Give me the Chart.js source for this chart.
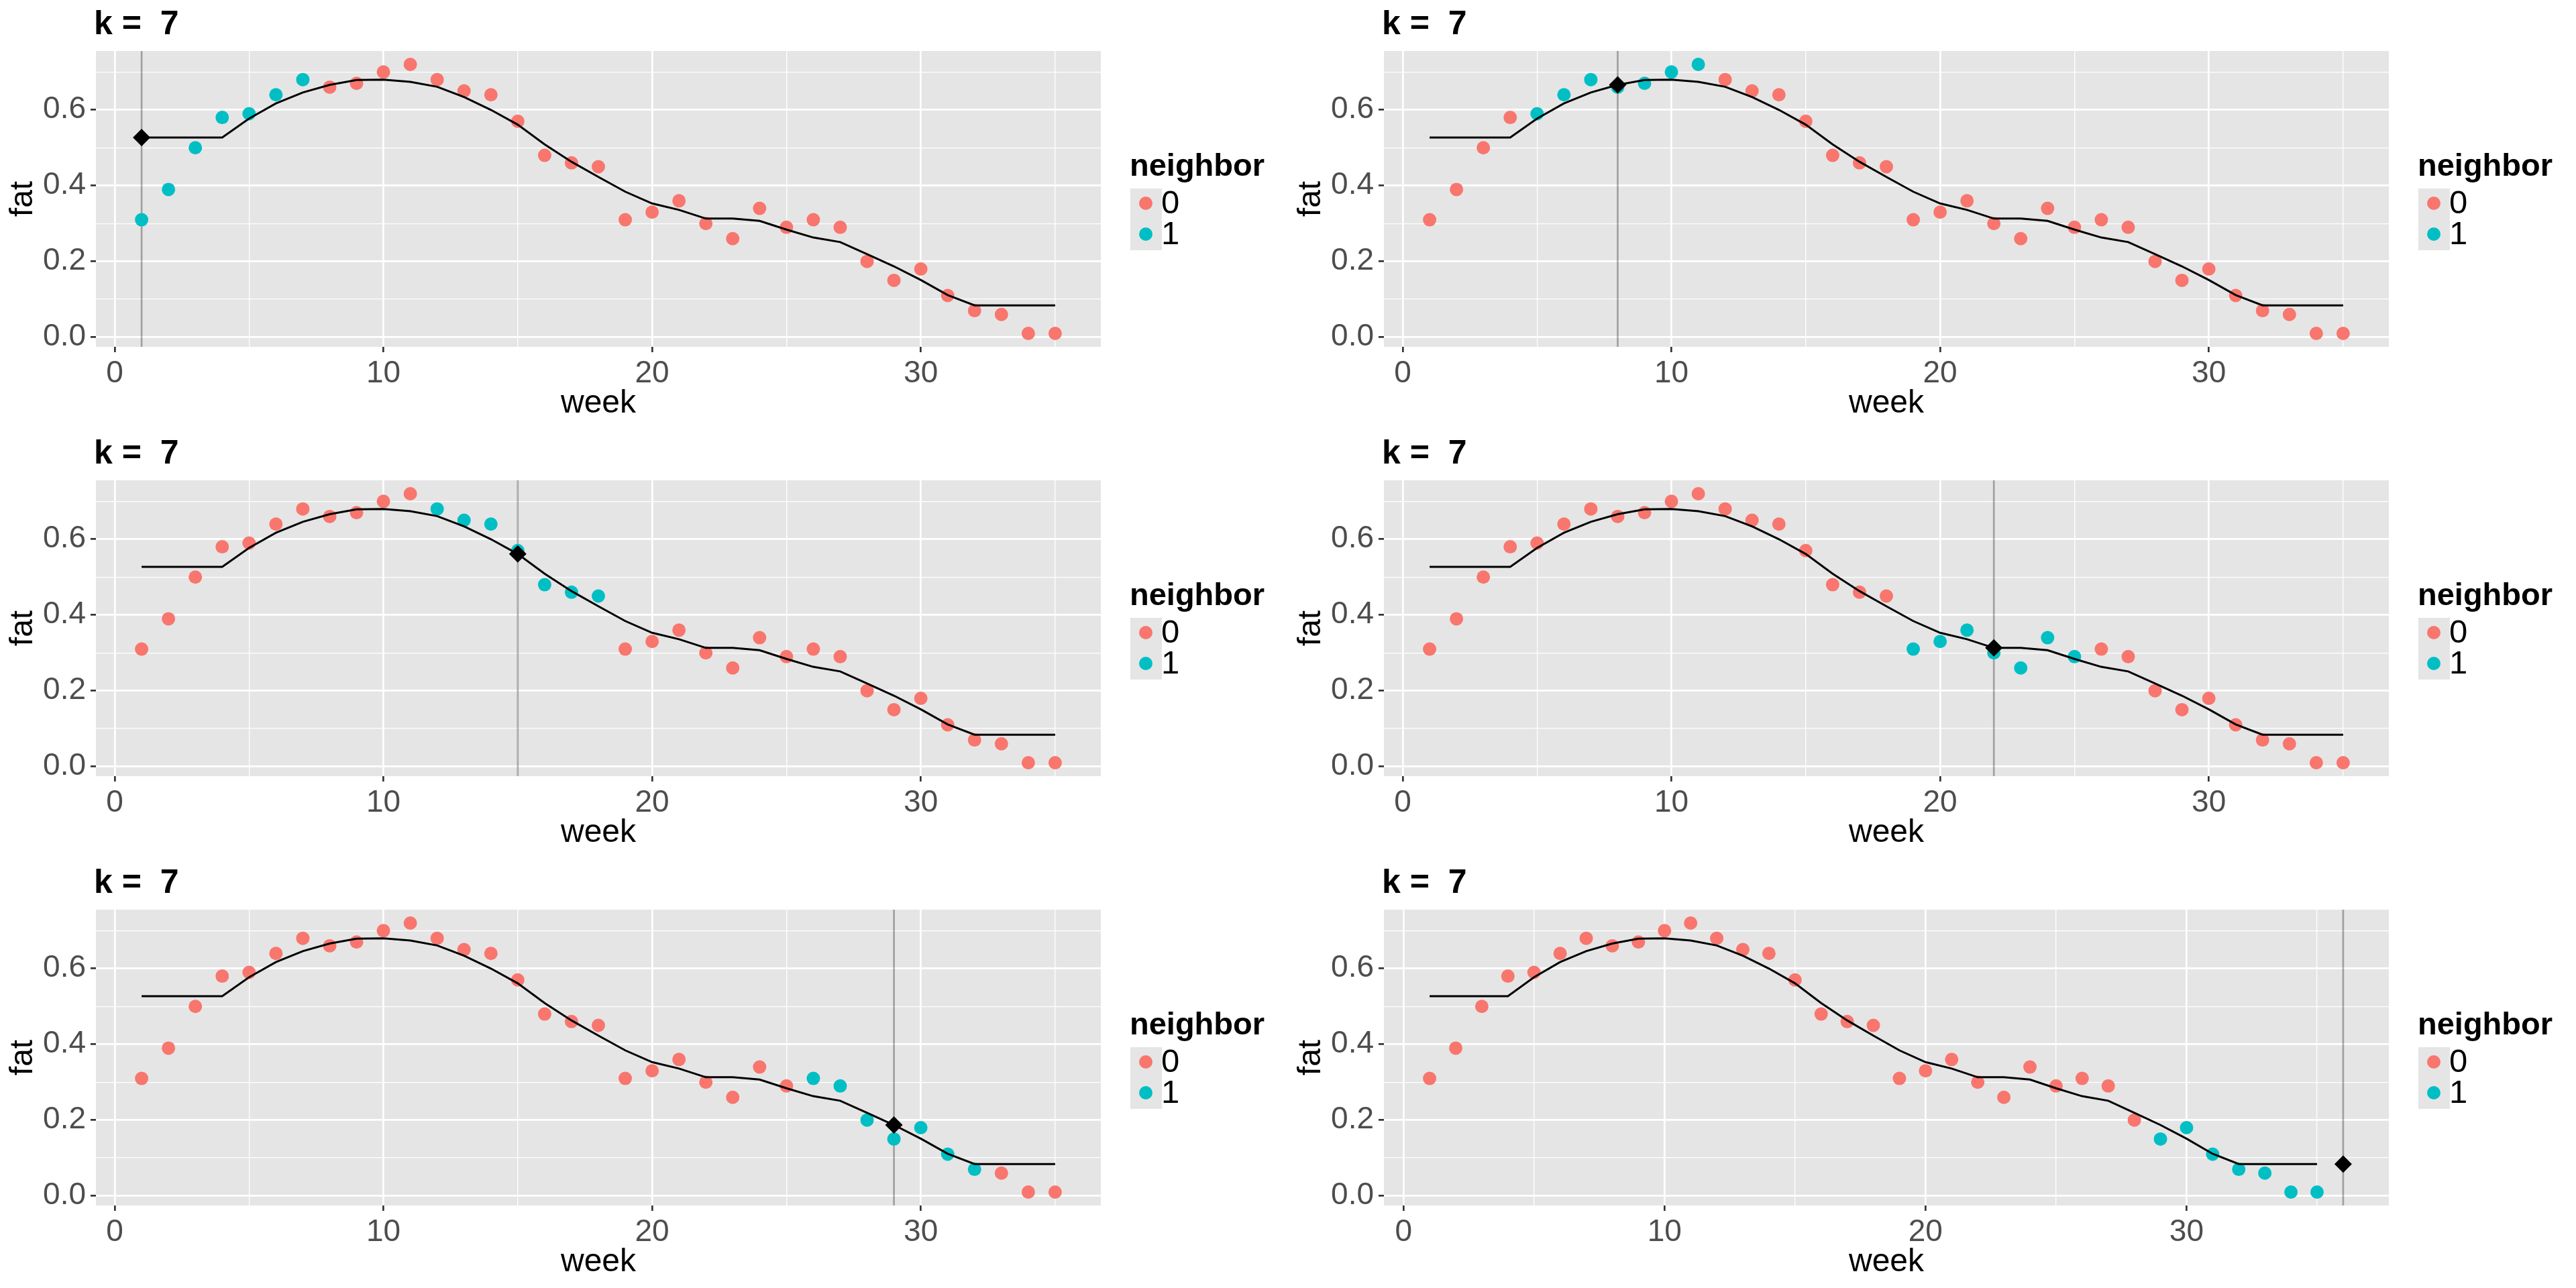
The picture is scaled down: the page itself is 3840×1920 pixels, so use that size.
<!DOCTYPE html>
<html><head><meta charset="utf-8">
<script src="https://cdn.jsdelivr.net/npm/chart.js@4.4.1/dist/chart.umd.min.js"></script>
<style>
html,body{margin:0;padding:0;background:#fff;}
#wrap{position:relative;width:3840px;height:1920px;overflow:hidden;font-family:"Liberation Sans",Arial,sans-serif;}
.panel{position:absolute;width:1920px;height:640px;}
.panel canvas{position:absolute;left:0;top:0;}
.ptitle{position:absolute;left:140px;top:9px;font-size:50px;line-height:50px;font-weight:bold;white-space:pre;color:#000;}
.ltitle{position:absolute;left:1684px;top:222px;font-size:47px;line-height:47px;font-weight:bold;color:#000;}
.lkeys{position:absolute;left:1685px;top:281px;width:47px;height:92px;background:#E5E5E5;}
.dot{position:absolute;left:13px;width:20px;height:20px;border-radius:50%;}
.llab{position:absolute;left:1731px;font-size:49px;line-height:49px;color:#000;}
</style></head>
<body><div id="wrap"></div>
<script>
// ---- data ----
const weeks = [1,2,3,4,5,6,7,8,9,10,11,12,13,14,15,16,17,18,19,20,21,22,23,24,25,26,27,28,29,30,31,32,33,34,35];
const fat   = [0.31,0.39,0.50,0.58,0.59,0.64,0.68,0.66,0.67,0.70,0.72,0.68,0.65,0.64,0.57,0.48,0.46,0.45,0.31,0.33,0.36,0.30,0.26,0.34,0.29,0.31,0.29,0.20,0.15,0.18,0.11,0.07,0.06,0.01,0.01];
const knnFit = [0.527,0.527,0.527,0.527,0.577,0.617,0.646,0.666,0.679,0.680,0.674,0.661,0.634,0.600,0.561,0.509,0.463,0.423,0.384,0.353,0.336,0.313,0.313,0.307,0.284,0.263,0.251,0.219,0.187,0.151,0.111,0.084,0.084,0.084,0.084];
const kValue = 7;
const queryWeeks = [1, 8, 15, 22, 29, 36];
const queryFit   = [0.527, 0.666, 0.561, 0.313, 0.187, 0.084];
const neighborWeeks = [
  [1,2,3,4,5,6,7],
  [5,6,7,8,9,10,11],
  [12,13,14,15,16,17,18],
  [19,20,21,22,23,24,25],
  [26,27,28,29,30,31,32],
  [29,30,31,32,33,34,35]
];
const xLimits = [[-0.7,36.7],[-0.7,36.7],[-0.7,36.7],[-0.7,36.7],[-0.7,36.7],[-0.75,37.75]];
const yLimits = [-0.0255, 0.7555];
const xTicks = [0,5,10,15,20,25,30,35];
const xMajor = [0,10,20,30];
const yTicks = [0,0.1,0.2,0.3,0.4,0.5,0.6,0.7];
const yMajor = [0,0.2,0.4,0.6];
const legendLabels = ['0','1'];
const colors = ['#F8766D','#00BFC4'];

Chart.defaults.font.family = '"Liberation Sans", Arial, sans-serif';

const isMajor = (list, v) => list.some(m => Math.abs(m - v) < 1e-9);
const wrap = document.getElementById('wrap');

for (let p = 0; p < 6; p++) {
  const col = p % 2, row = Math.floor(p / 2);
  const panel = document.createElement('div');
  panel.className = 'panel';
  panel.style.left = (col * 1920) + 'px';
  panel.style.top = (row * 640) + 'px';
  const cv = document.createElement('canvas');
  cv.width = 1920; cv.height = 640;
  cv.style.width = '1920px'; cv.style.height = '640px';
  panel.appendChild(cv);
  const t = document.createElement('div'); t.className = 'ptitle'; t.textContent = 'k =  ' + kValue; panel.appendChild(t);
  const lt = document.createElement('div'); lt.className = 'ltitle'; lt.textContent = 'neighbor'; panel.appendChild(lt);
  const keys = document.createElement('div'); keys.className = 'lkeys';
  for (let i = 0; i < 2; i++) {
    const d = document.createElement('div'); d.className = 'dot';
    d.style.top = (12 + 46 * i) + 'px'; d.style.background = colors[i];
    keys.appendChild(d);
    const l = document.createElement('div'); l.className = 'llab';
    l.style.top = (277 + 46 * i) + 'px'; l.textContent = legendLabels[i];
    panel.appendChild(l);
  }
  panel.appendChild(keys);
  wrap.appendChild(panel);

  const nb = neighborWeeks[p];
  const pts0 = [], pts1 = [];
  weeks.forEach((w, i) => { (nb.includes(w) ? pts1 : pts0).push({x: w, y: fat[i]}); });
  const fitLine = weeks.map((w, i) => ({x: w, y: knnFit[i]}));
  const q = queryWeeks[p];

  new Chart(cv, {
    type: 'scatter',
    data: { datasets: [
      { label: 'query', data: [{x: q, y: queryFit[p]}], pointStyle: 'rectRot', pointRadius: 13, pointHoverRadius: 13, backgroundColor: '#000', borderColor: '#000', borderWidth: 0 },
      { label: 'fit', data: fitLine, showLine: true, borderColor: '#000', borderWidth: 3, pointRadius: 0, pointHoverRadius: 0, tension: 0, fill: false },
      { label: '1', data: pts1, pointRadius: 10, pointHoverRadius: 10, backgroundColor: colors[1], borderWidth: 0 },
      { label: '0', data: pts0, pointRadius: 10, pointHoverRadius: 10, backgroundColor: colors[0], borderWidth: 0 },
      { label: 'vline', data: [{x: q, y: yLimits[0]}, {x: q, y: yLimits[1]}], showLine: true, borderColor: 'rgba(0,0,0,0.3)', borderWidth: 2.7, pointRadius: 0, pointHoverRadius: 0 }
    ]},
    options: {
      responsive: false, animation: false, devicePixelRatio: 1,
      events: [],
      layout: { padding: { left: 0, right: 279, top: 76, bottom: 0 } },
      plugins: { legend: { display: false }, tooltip: { enabled: false }, title: { display: false } },
      scales: {
        x: {
          type: 'linear', min: xLimits[p][0], max: xLimits[p][1],
          afterBuildTicks: s => { s.ticks = xTicks.map(v => ({value: v})); },
          afterFit: s => { s.height = 123; },
          border: { display: false },
          grid: {
            color: '#FFFFFF',
            lineWidth: c => isMajor(xMajor, c.tick.value) ? 2.7 : 1.35,
            drawTicks: true, tickLength: 8, tickWidth: 2.7,
            tickColor: c => isMajor(xMajor, c.tick.value) ? '#333333' : 'rgba(0,0,0,0)'
          },
          ticks: { autoSkip: false, maxRotation: 0, padding: 5, color: '#4D4D4D', font: { size: 46 },
            callback: v => isMajor(xMajor, v) ? String(v) : '' },
          title: { display: true, text: 'week', color: '#000', font: { size: 48 }, padding: { top: 0, bottom: 9 } }
        },
        y: {
          type: 'linear', min: yLimits[0], max: yLimits[1],
          afterBuildTicks: s => { s.ticks = yTicks.map(v => ({value: v})); },
          afterFit: s => { s.width = 143; },
          border: { display: false },
          grid: {
            color: '#FFFFFF',
            lineWidth: c => isMajor(yMajor, c.tick.value) ? 2.7 : 1.35,
            drawTicks: true, tickLength: 8, tickWidth: 2.7,
            tickColor: c => isMajor(yMajor, c.tick.value) ? '#333333' : 'rgba(0,0,0,0)'
          },
          ticks: { autoSkip: false, padding: 7, color: '#4D4D4D', font: { size: 46 },
            callback: v => isMajor(yMajor, v) ? v.toFixed(1) : '' },
          title: { display: true, text: 'fat', color: '#000', font: { size: 48 }, padding: { top: 6, bottom: 0 } }
        }
      }
    },
    plugins: [{
      id: 'panelBg',
      beforeDraw: (chart) => {
        const a = chart.chartArea, ctx = chart.ctx;
        ctx.save(); ctx.fillStyle = '#E5E5E5';
        ctx.fillRect(a.left, a.top, a.right - a.left, a.bottom - a.top);
        ctx.restore();
      }
    }]
  });
}
</script>
</body></html>
